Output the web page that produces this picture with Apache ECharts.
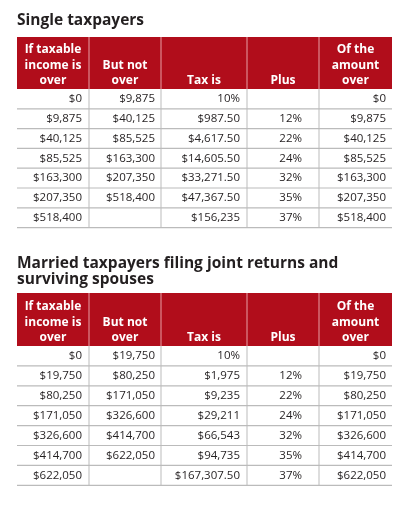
<!DOCTYPE html>
<html><head><meta charset="utf-8">
<script src="https://cdn.jsdelivr.net/npm/echarts@6/dist/echarts.min.js"></script>
<style>html,body{margin:0;padding:0;background:#fff}#c{width:402px;height:505px}</style>
</head><body><div id="c"></div>
<script>
var headers = [["If taxable","income is","over"],["But not","over"],["Tax is"],["Plus"],["Of the","amount","over"]];
var singleTitle = ["Single taxpayers"];
var singleRows = [
 ["$0","$9,875","10%","","$0"],
 ["$9,875","$40,125","$987.50","12%","$9,875"],
 ["$40,125","$85,525","$4,617.50","22%","$40,125"],
 ["$85,525","$163,300","$14,605.50","24%","$85,525"],
 ["$163,300","$207,350","$33,271.50","32%","$163,300"],
 ["$207,350","$518,400","$47,367.50","35%","$207,350"],
 ["$518,400","","$156,235","37%","$518,400"]];
var marriedTitle = ["Married taxpayers filing joint returns and","surviving spouses"];
var marriedRows = [
 ["$0","$19,750","10%","","$0"],
 ["$19,750","$80,250","$1,975","12%","$19,750"],
 ["$80,250","$171,050","$9,235","22%","$80,250"],
 ["$171,050","$326,600","$29,211","24%","$171,050"],
 ["$326,600","$414,700","$66,543","32%","$326,600"],
 ["$414,700","$622,050","$94,735","35%","$414,700"],
 ["$622,050","","$167,307.50","37%","$622,050"]];

var colX = [17, 89, 161, 247, 319, 392];
var valRight = [82, 155, 240, 302, 386];
var RED = '#b10d1b', FONT = '"Open Sans", "Noto Sans", sans-serif';
var els = [];
function table(titleLines, titleY, headTop, headBot, rows, rowH) {
  titleLines.forEach(function(t,i){
    els.push({type:'text', style:{text:t, x:17, y:titleY+i*16, font:'bold 15.5px '+FONT, fill:'#231f20', textVerticalAlign:'middle'}});
  });
  els.push({type:'rect', shape:{x:colX[0], y:headTop, width:colX[5]-colX[0], height:headBot-headTop}, style:{fill:RED}});
  for (var c=1;c<5;c++) els.push({type:'line', shape:{x1:colX[c],y1:headTop,x2:colX[c],y2:headBot}, style:{stroke:'#e7a0a6', lineWidth:1}});
  headers.forEach(function(h,c){
    var cx=(colX[c]+colX[c+1])/2;
    h.forEach(function(t,i){
      var y = headBot - 8 - (h.length-1-i)*15.5;
      els.push({type:'text', style:{text:t, x:cx, y:y, font:'bold 12px '+FONT, fill:'#fff', textAlign:'center', textVerticalAlign:'middle'}});
    });
  });
  rows.forEach(function(r,ri){
    var y0 = headBot + ri*rowH;
    for (var c=1;c<5;c++) els.push({type:'line', shape:{x1:colX[c],y1:y0,x2:colX[c],y2:y0+rowH}, style:{stroke:'#bbbbbb', lineWidth:1}});
    els.push({type:'line', shape:{x1:colX[0],y1:y0+rowH,x2:colX[5],y2:y0+rowH}, style:{stroke:'#bbbbbb', lineWidth:1.2}});
    r.forEach(function(v,c){
      els.push({type:'text', style:{text:v, x:valRight[c], y:y0+rowH/2, font:'11.5px '+FONT, fill:'#231f20', textAlign:'right', textVerticalAlign:'middle'}});
    });
  });
}
table(singleTitle, 21, 37, 89, singleRows, 19.8);
table(marriedTitle, 264, 293, 346, marriedRows, 19.9);
var chart = echarts.init(document.getElementById('c'));
chart.setOption({graphic:{elements:els}});
</script></body></html>
